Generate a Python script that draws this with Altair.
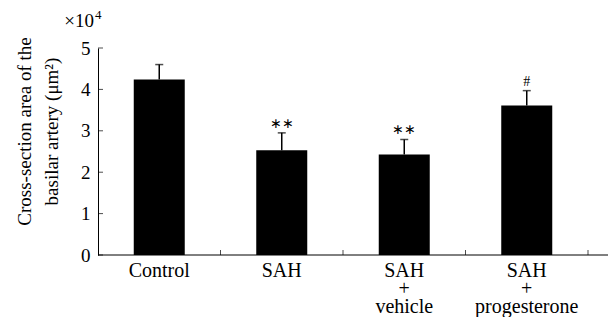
import altair as alt
import pandas as pd

groups = ["Control", "SAH", "SAH|+|vehicle", "SAH|+|progesterone"]
means = [4.24, 2.53, 2.43, 3.61]
errors = [0.36, 0.42, 0.36, 0.36]
marks = ["", "∗∗", "∗∗", "#"]
y_ticks = [0, 1, 2, 3, 4, 5]

df = pd.DataFrame({
    "group": groups,
    "mean": means,
    "upper": [m + e for m, e in zip(means, errors)],
    "mark": marks,
})
ticks_df = pd.DataFrame({"v": y_ticks})

W, H = 510, 207
FONT = "Liberation Serif"

xscale = alt.Scale(domain=groups, range=[0, 490], paddingInner=0, paddingOuter=0)
yscale = alt.Scale(domain=[0, 5], nice=False)

x_enc = alt.X("group:N", scale=xscale, sort=groups,
              axis=alt.Axis(title=None, domain=False, ticks=False, labelAngle=0,
                            labelExpr="split(datum.label, '|')", labelLineHeight=18,
                            labelFont=FONT, labelFontSize=20, labelColor="black",
                            labelPadding=5, labelBaseline="top"))
y_enc = alt.Y("mean:Q", scale=yscale,
              axis=alt.Axis(title=["Cross-section area of the", "basilar artery (μm²)"],
                            titleFont=FONT, titleFontSize=19, titleFontWeight="normal",
                            titleColor="black", titlePadding=19, titleLineHeight=27,
                            titleY=83,
                            values=y_ticks, labelFont=FONT, labelFontSize=19,
                            labelColor="black", labelPadding=8, ticks=False,
                            domainColor="black", domainWidth=1, grid=False))

base = alt.Chart(df)

bars = base.mark_bar(color="black", size=51).encode(x=x_enc, y=y_enc)

err = base.mark_rule(color="black", strokeWidth=1.5).encode(
    x=alt.X("group:N", scale=xscale, sort=groups),
    y=alt.Y("mean:Q", scale=yscale),
    y2="upper:Q",
)
caps = base.mark_tick(color="black", size=8, thickness=1.5, orient="horizontal").encode(
    x=alt.X("group:N", scale=xscale, sort=groups),
    y=alt.Y("upper:Q", scale=yscale),
)
sig = base.mark_text(font=FONT, fontSize=14, color="black", baseline="bottom", dy=-2).encode(
    x=alt.X("group:N", scale=xscale, sort=groups),
    y=alt.Y("upper:Q", scale=yscale),
    text="mark:N",
)

baseline = alt.Chart(pd.DataFrame({"v": [0]})).mark_rule(color="black", strokeWidth=1).encode(
    y=alt.Y("v:Q", scale=yscale), x=alt.value(0), x2=alt.value(W)
)
xticks = base.mark_tick(color="black", size=5, thickness=1, orient="vertical").encode(
    x=alt.X("group:N", scale=xscale, sort=groups, bandPosition=1),
    y=alt.value(H - 2.5),
)
yticks = alt.Chart(ticks_df).mark_tick(color="black", size=5, thickness=1, orient="horizontal").encode(
    y=alt.Y("v:Q", scale=yscale), x=alt.value(2.5)
)
mult = alt.Chart(pd.DataFrame({"t": ["×10"]})).mark_text(
    font=FONT, fontSize=19, color="black", align="right", baseline="alphabetic"
).encode(x=alt.value(-4), y=alt.value(-21), text="t:N")
mult_exp = alt.Chart(pd.DataFrame({"t": ["4"]})).mark_text(
    font=FONT, fontSize=13, color="black", align="left", baseline="alphabetic"
).encode(x=alt.value(-3), y=alt.value(-29), text="t:N")

chart = alt.layer(bars, err, caps, sig, baseline, xticks, yticks, mult, mult_exp).properties(
    width=W, height=H,
    autosize=alt.AutoSizeParams(type="none"),
    padding={"left": 90, "top": 40, "right": 0, "bottom": 62},
).configure_view(stroke=None)

chart.save("out.html", embed_options={"renderer": "svg", "actions": False})
